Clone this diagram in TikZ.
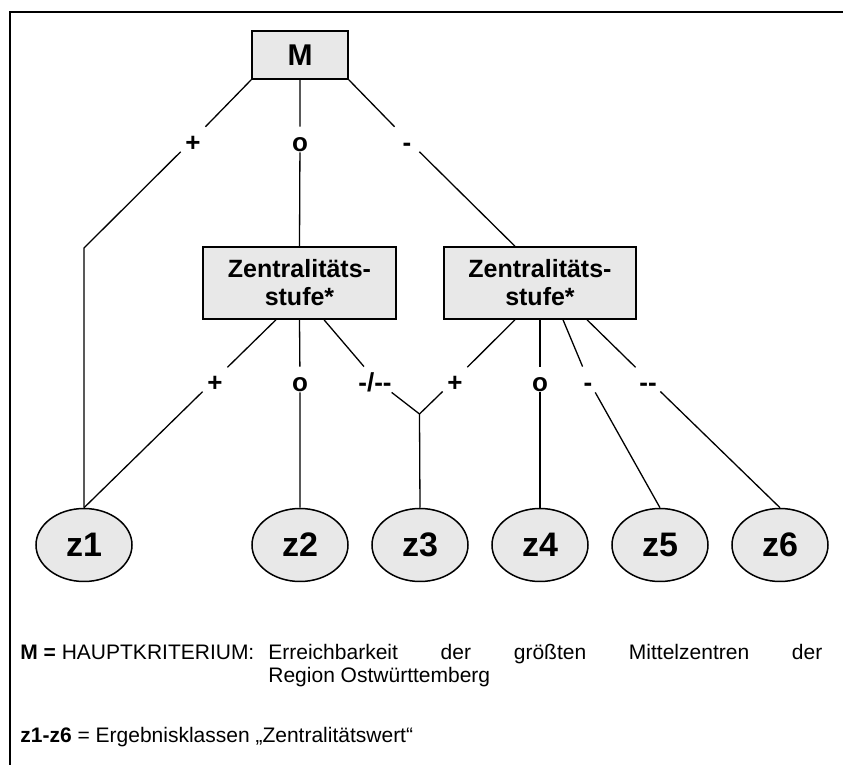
\documentclass[tikz,border=0pt]{standalone}
\usepackage{fontspec}
\setmainfont{Liberation Sans}
\usepackage{tikz}
\usetikzlibrary{shapes.geometric}
\definecolor{figline}{RGB}{0,0,0}
\definecolor{boxfill}{RGB}{232,232,232}
\tikzset{
  fr/.style  ={draw=figline, line width=1pt},
  ln/.style  ={draw=figline, line width=0.65pt},
  bx/.style  ={draw=figline, line width=0.75pt, fill=boxfill, inner sep=0pt, align=center,
               font=\fontsize{12.5}{14}\selectfont\bfseries},
  zk/.style  ={ellipse, draw=figline, line width=0.75pt, fill=boxfill, inner sep=0pt,
               minimum width=48pt, minimum height=36.5pt, font=\fontsize{17}{20}\selectfont\bfseries},
  ast/.style ={inner sep=0pt, minimum width=12pt, text height=12.5pt, text depth=0pt, anchor=base,
               font=\fontsize{13}{15}\selectfont\bfseries},
  leg/.style ={inner sep=0pt, anchor=base west, font=\fontsize{10.5}{11.5}\selectfont},
}

\begin{document}
\begin{tikzpicture}[x=0.5pt,y=-0.5pt]
  \useasboundingbox (0,0) rectangle (843,765);
  \draw[fr] (843,12) -- (10,12) -- (10,765);
  % Kriterien
  \node[bx, minimum width=48pt, minimum height=24pt, font=\fontsize{15}{17}\selectfont\bfseries] (M) at (300,55) {M};
  \node[bx, minimum width=96.5pt, minimum height=36pt] (s1) at (299.5,283) {Zentralitäts-\\stufe*};
  \node[bx, minimum width=96pt, minimum height=36pt] (s2) at (540,283) {Zentralitäts-\\stufe*};
  % Ergebnisklassen
  \node[zk] (z1) at (84,545) {z1};
  \node[zk] (z2) at (300,545) {z2};
  \node[zk] (z3) at (420,545) {z3};
  \node[zk] (z4) at (540,545) {z4};
  \node[zk] (z5) at (660,545) {z5};
  \node[zk] (z6) at (780,545) {z6};
  % Auspraegungen
  \node[ast] (m1) at (193,152) {+};
  \node[ast] (m2) at (300,152) {o};
  \node[ast] (m3) at (407,152) {-};
  \node[ast] (p1) at (215,392) {+};
  \node[ast] (p2) at (300,392) {o};
  \node[ast] (p3) at (375,392) {-/-{}-};
  \node[ast] (q1) at (455,392) {+};
  \node[ast] (q2) at (540,392) {o};
  \node[ast] (q3) at (588,392) {-};
  \node[ast] (q4) at (648,392) {-{}-};
  \coordinate (k1) at (84,248);
  \coordinate (j) at (419.5,414);
  % Verbindungen
  \draw[ln] (M.south west) -- (m1) -- (k1) -- (z1.north);
  \draw[ln] (M.south) -- (m2) -- (s1.north);
  \draw[ln] (M.south east) -- (m3) -- ([xshift=-12.5pt]s2.north);
  \draw[ln] ([xshift=-11.75pt]s1.south) -- (p1) -- (z1.north);
  \draw[ln] (s1.south) -- (p2) -- (z2.north);
  \draw[ln] ([xshift=12.25pt]s1.south) -- (p3) -- (j) -- (z3.north);
  \draw[ln] ([xshift=-12.5pt]s2.south) -- (q1) -- (j);
  \draw[ln] (s2.south) -- (q2) -- (z4.north);
  \draw[ln] ([xshift=11.5pt]s2.south) -- (q3) -- (z5.north);
  \draw[ln] ([xshift=23.5pt]s2.south) -- (q4) -- (z6.north);
  % Legende
  \node[leg] (lg1) at (20,660) {\textbf{M =} HAUPTKRITERIUM:};
  \node[leg, text width=277pt, align=justify] (lg2) at (268,660)
    {Erreichbarkeit der größten Mittelzentren der\linebreak Region Ostwürttemberg};
  \node[leg] (lg3) at (20,743) {\textbf{z1-z6} = Ergebnisklassen „Zentralitätswert“};
\end{tikzpicture}
\end{document}
